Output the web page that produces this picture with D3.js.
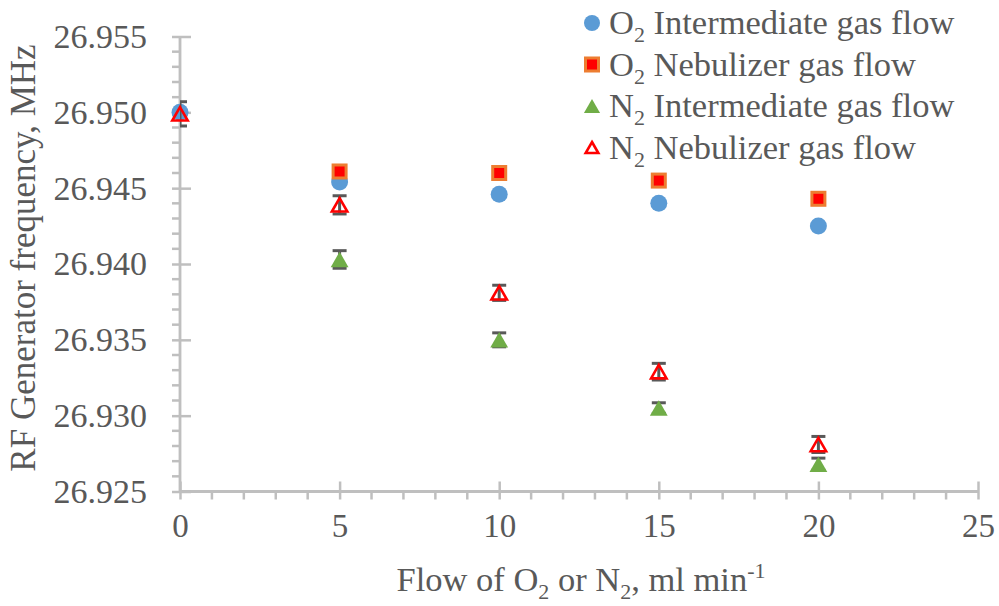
<!DOCTYPE html>
<html>
<head>
<meta charset="utf-8">
<script src="https://cdn.jsdelivr.net/npm/d3@7"></script>
<style>
  html, body { margin: 0; padding: 0; background: #fff; }
  svg { display: block; }
  text { font-family: "Liberation Serif", "Times New Roman", serif; fill: #595959; }
</style>
</head>
<body>
<svg id="chart" width="999" height="606"></svg>
<script>
// Flow rate of the added gas, ml/min
const flowO2Int = [0, 5, 10, 15, 20];
const freqO2Int = [26.9500, 26.9454, 26.9446, 26.9440, 26.9425];

const flowO2Neb = [5, 10, 15, 20];
const freqO2Neb = [26.9461, 26.9460, 26.9455, 26.9443];

const flowN2Int = [5, 10, 15, 20];
const freqN2Int = [26.9403, 26.9350, 26.9305, 26.9268];
const errN2Int  = [0.00058, 0.00046, 0.00035, 0.00040];

const flowN2Neb = [0, 5, 10, 15, 20];
const freqN2Neb = [26.9499, 26.9439, 26.9381, 26.9329, 26.9281];
const errN2Neb  = [0.00080, 0.00060, 0.00050, 0.00055, 0.00053];

const xMajorTicks = [0, 5, 10, 15, 20, 25];
const yMajorTicks = [26.925, 26.930, 26.935, 26.940, 26.945, 26.950, 26.955];

const svg = d3.select("#chart");

const x = d3.scaleLinear().domain([0, 25]).range([180, 978]);
const y = d3.scaleLinear().domain([26.925, 26.955]).range([491.5, 36.5]);

const axisColor = "#bfbfbf";
const labelColor = "#595959";

// minor ticks every 1 ml/min and every 0.001 MHz
const xMinor = d3.range(0, 25.001, 1).filter(v => v % 5 !== 0);
const yMinor = d3.range(0, 31).map(i => +(26.925 + i * 0.001).toFixed(3))
  .filter((v, i) => i % 5 !== 0);

const gx = svg.append("g").attr("transform", `translate(0,${y.range()[0]})`);
gx.selectAll("line.minor").data(xMinor).join("line")
  .attr("x1", d => x(d)).attr("x2", d => x(d))
  .attr("y1", 0).attr("y2", 8)
  .attr("stroke", axisColor).attr("stroke-width", 2.5);
gx.call(d3.axisBottom(x).tickValues(xMajorTicks).tickSize(8).tickPadding(14).tickFormat(d3.format("d")));
gx.select(".domain").attr("stroke", axisColor).attr("stroke-width", 2.8).attr("d", `M${x(0)},0H${x(25)}`);
gx.selectAll(".tick line").attr("stroke", axisColor).attr("stroke-width", 2.5).attr("y1", -10);
gx.selectAll(".tick text").attr("font-size", 33).attr("fill", labelColor);

const gy = svg.append("g").attr("transform", `translate(${x(0)},0)`);
gy.selectAll("line.minor").data(yMinor).join("line")
  .attr("x1", -8).attr("x2", 0)
  .attr("y1", d => y(d)).attr("y2", d => y(d))
  .attr("stroke", axisColor).attr("stroke-width", 2.5);
gy.call(d3.axisLeft(y).tickValues(yMajorTicks).tickSize(8).tickPadding(25).tickFormat(d3.format(".3f")));
gy.select(".domain").attr("stroke", axisColor).attr("stroke-width", 2.8)
  .attr("d", `M0,${y(26.955)}V${y.range()[0]}`);
gy.selectAll(".tick line").attr("stroke", axisColor).attr("stroke-width", 2.5).attr("x1", 11);
gy.selectAll(".tick text").attr("font-size", 34).attr("fill", labelColor);

// Marker shapes (triangles centred on their bounding box)
const triBox = {
  draw(ctx, size) {
    const h = Math.sqrt(size), w = h * 1.15;
    ctx.moveTo(0, -h / 2);
    ctx.lineTo(w / 2, h / 2);
    ctx.lineTo(-w / 2, h / 2);
    ctx.closePath();
  }
};

const plot = svg.append("g");
svg.append("defs").append("clipPath").attr("id", "plotClip")
  .append("rect").attr("x", x(0)).attr("y", 0).attr("width", x(25) - x(0) + 20).attr("height", 606);

function circles(g, xs, ys) {
  g.selectAll(null).data(xs.map((d, i) => [d, ys[i]])).join("circle")
    .attr("cx", d => x(d[0])).attr("cy", d => y(d[1])).attr("r", 8.5)
    .attr("fill", "#5b9bd5");
}
function squares(g, xs, ys) {
  g.selectAll(null).data(xs.map((d, i) => [d, ys[i]])).join("rect")
    .attr("x", d => x(d[0]) - 6.5).attr("y", d => y(d[1]) - 6.5)
    .attr("width", 13).attr("height", 13)
    .attr("fill", "#ff0000").attr("stroke", "#ed7d31").attr("stroke-width", 3);
}
function triangles(g, xs, ys, filled) {
  g.selectAll(null).data(xs.map((d, i) => [d, ys[i]])).join("path")
    .attr("transform", d => `translate(${x(d[0])},${y(d[1])})`)
    .attr("d", d3.symbol().type(triBox).size(filled ? 240 : 180)())
    .attr("fill", filled ? "#70ad47" : "none")
    .attr("stroke", filled ? "none" : "#ff0000")
    .attr("stroke-width", filled ? 0 : 2.6)
    .attr("stroke-linejoin", "miter");
}
function errorBars(g, xs, ys, es) {
  const data = xs.map((d, i) => [d, ys[i], es[i]]);
  const eg = g.append("g").attr("clip-path", "url(#plotClip)")
    .attr("stroke", "#595959").attr("stroke-width", 3);
  eg.selectAll(null).data(data).join("line")
    .attr("x1", d => x(d[0])).attr("x2", d => x(d[0]))
    .attr("y1", d => y(d[1] - d[2])).attr("y2", d => y(d[1] + d[2]));
  eg.selectAll(null).data(data.flatMap(d => [[d[0], d[1] + d[2]], [d[0], d[1] - d[2]]])).join("line")
    .attr("x1", d => x(d[0]) - 7).attr("x2", d => x(d[0]) + 7)
    .attr("y1", d => y(d[1])).attr("y2", d => y(d[1]));
}

circles(plot.append("g"), flowO2Int, freqO2Int);
squares(plot.append("g"), flowO2Neb, freqO2Neb);
errorBars(plot, flowN2Int, freqN2Int, errN2Int);
triangles(plot.append("g"), flowN2Int, freqN2Int, true);
errorBars(plot, flowN2Neb, freqN2Neb, errN2Neb);
triangles(plot.append("g"), flowN2Neb, freqN2Neb, false);

// Legend
const legendNames = [
  ["O", "2", " Intermediate gas flow"],
  ["O", "2", " Nebulizer gas flow"],
  ["N", "2", " Intermediate gas flow"],
  ["N", "2", " Nebulizer gas flow"]
];
const legendRows = [23, 64.5, 106, 147.5];
const lg = svg.append("g");
const lx = 592;
lg.append("circle").attr("cx", lx).attr("cy", legendRows[0]).attr("r", 8).attr("fill", "#5b9bd5");
lg.append("rect").attr("x", lx - 6.5).attr("y", legendRows[1] - 6.5).attr("width", 13).attr("height", 13)
  .attr("fill", "#ff0000").attr("stroke", "#ed7d31").attr("stroke-width", 3);
lg.append("path").attr("transform", `translate(${lx},${legendRows[2]})`)
  .attr("d", d3.symbol().type(triBox).size(196)()).attr("fill", "#70ad47");
lg.append("path").attr("transform", `translate(${lx},${legendRows[3]})`)
  .attr("d", d3.symbol().type(triBox).size(121)()).attr("fill", "none")
  .attr("stroke", "#ff0000").attr("stroke-width", 2.6);

legendNames.forEach((parts, i) => {
  const t = lg.append("text").attr("x", 609).attr("y", legendRows[i] + 11).attr("font-size", 34.5);
  t.append("tspan").text(parts[0]);
  t.append("tspan").attr("font-size", 22).attr("dy", 8).text(parts[1]);
  t.append("tspan").attr("dy", -8).text(parts[2]);
});

// Axis titles
const xt = svg.append("text").attr("x", 581).attr("y", 591).attr("font-size", 34.5).attr("text-anchor", "middle");
xt.append("tspan").text("Flow of O");
xt.append("tspan").attr("font-size", 22).attr("dy", 8).text("2");
xt.append("tspan").attr("dy", -8).text(" or N");
xt.append("tspan").attr("font-size", 22).attr("dy", 8).text("2");
xt.append("tspan").attr("dy", -8).text(", ml min");
xt.append("tspan").attr("font-size", 22).attr("dy", -13).text("-1");

svg.append("text").attr("transform", "translate(35,258) rotate(-90)")
  .attr("font-size", 35).attr("text-anchor", "middle")
  .text("RF Generator frequency, MHz");
</script>
</body>
</html>
